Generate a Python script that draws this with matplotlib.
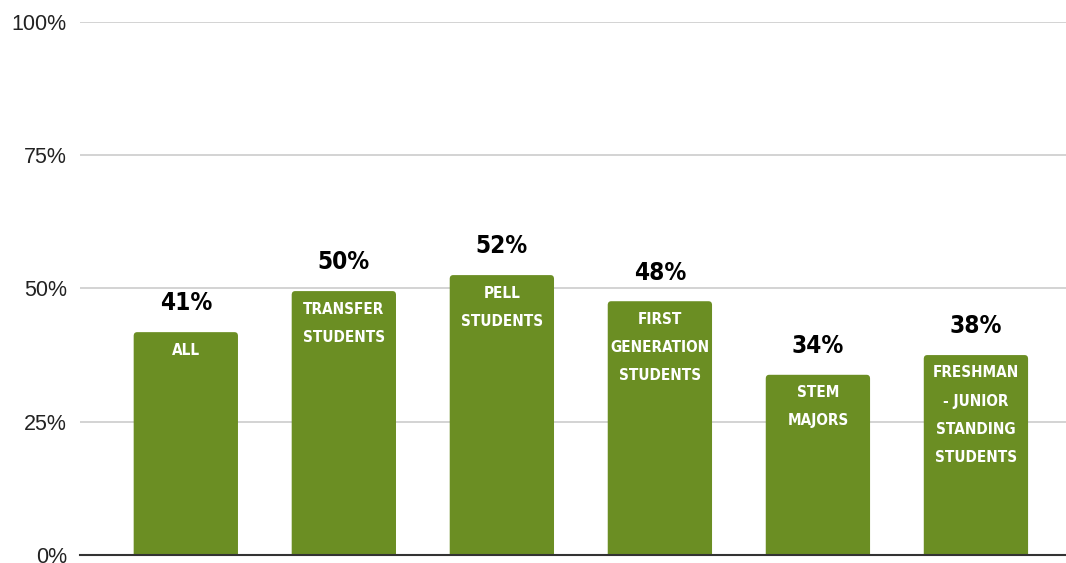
import matplotlib
matplotlib.use("Agg")
import matplotlib.pyplot as plt
from matplotlib.ticker import FixedLocator, FuncFormatter
from matplotlib.patches import FancyBboxPatch

categories = ["ALL", "TRANSFER\nSTUDENTS", "PELL\nSTUDENTS", "FIRST\nGENERATION\nSTUDENTS",
              "STEM\nMAJORS", "FRESHMAN\n- JUNIOR\nSTANDING\nSTUDENTS"]
values = [41.8, 49.5, 52.5, 47.6, 33.8, 37.5]
value_labels = ["41%", "50%", "52%", "48%", "34%", "38%"]
yticks = [0, 25, 50, 75, 100]

bar_color = "#6b8e23"
cond = ["DejaVu Sans"]

fig = plt.figure(figsize=(10.66, 5.63), dpi=100)
ax = fig.add_axes([0.075, 0.0142, 0.925, 0.947])

x = list(range(len(categories)))
bars = ax.bar(x, values, width=0.66, color=bar_color, zorder=3)
for b in bars:
    b.set_visible(False)
    fp = FancyBboxPatch((b.get_x(), -2), b.get_width(), b.get_height() + 2,
                        boxstyle="round,pad=0,rounding_size=0.022",
                        mutation_aspect=32, facecolor=bar_color, edgecolor="none",
                        zorder=3)
    ax.add_patch(fp)

ax.set_ylim(0, 100)
ax.set_xlim(-0.67, 5.57)
ax.yaxis.set_major_locator(FixedLocator(yticks))
ax.yaxis.set_major_formatter(FuncFormatter(lambda v, p: f"{int(v)}%"))
ax.grid(axis="y", color="#cccccc", linewidth=1.2, zorder=0)
ax.set_xticks([])
for s in ["top", "right", "left"]:
    ax.spines[s].set_visible(False)
ax.spines["bottom"].set_color("#333333")
ax.spines["bottom"].set_linewidth(1.5)
ax.spines["bottom"].set_zorder(4)
ax.tick_params(axis="y", length=0, pad=9.5, labelsize=15.5, labelcolor="#222222")
for t in ax.get_yticklabels():
    t.set_family(["Liberation Sans", "DejaVu Sans"])

for xi, v, vl, lab in zip(x, values, value_labels, categories):
    ax.annotate(vl, (xi, v), xytext=(0, 12), textcoords="offset points",
                ha="center", va="bottom", fontsize=17.5, fontweight="bold",
                family=cond, fontstretch="condensed", color="black", zorder=5)
    ax.annotate(lab, (xi, v), xytext=(0, -7.5), textcoords="offset points",
                ha="center", va="top", fontsize=11, fontweight="bold",
                family=cond, fontstretch="condensed", color="white",
                linespacing=2.1, zorder=5)

fig.savefig("out.png", dpi=100)
